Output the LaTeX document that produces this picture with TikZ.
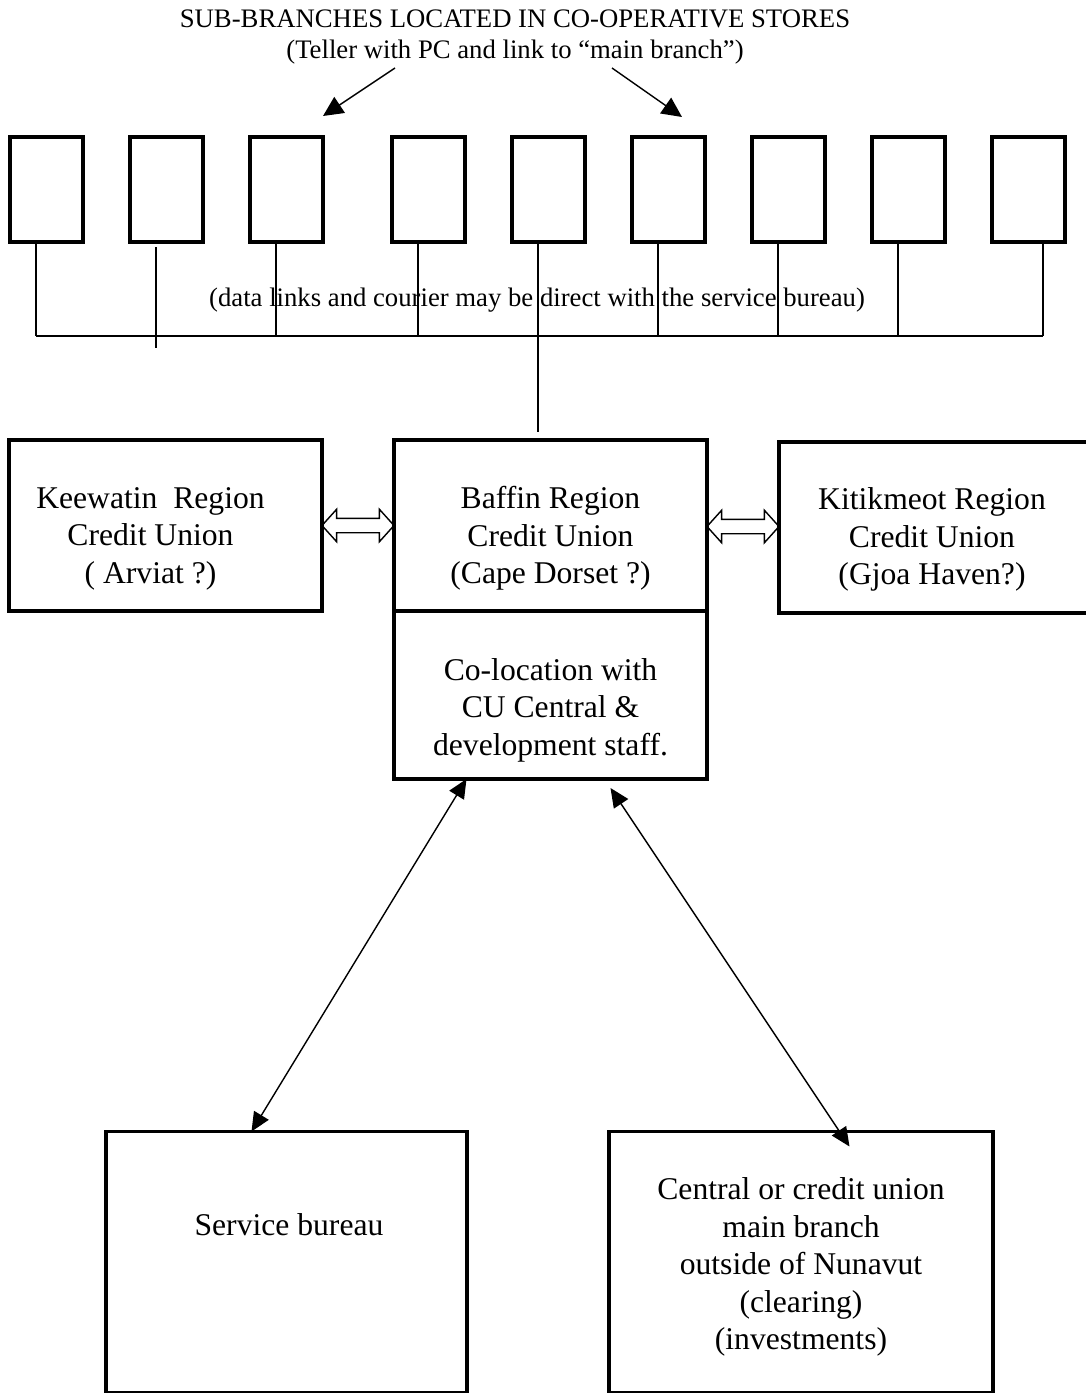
\documentclass[tikz,border=0pt]{standalone}
\usepackage{fontspec}
\setmainfont{Liberation Serif}
\usetikzlibrary{arrows.meta,positioning,calc,shapes.arrows}
\tikzset{
  diagarr/.style={{Triangle[length=3.8mm,width=3.4mm]}-{Triangle[length=3.8mm,width=3.4mm]}, line width=0.8pt},
  diagnode/.style={draw, line width=2.2pt, outer sep=0pt, inner sep=0pt},
  diagtext/.style={align=center, font=\fontsize{18}{21.3}\selectfont},
}

\begin{document}
\begin{tikzpicture}[
  storebox/.style={diagnode, line width=2pt, minimum width=1.46cm, minimum height=2.1cm},
  regbox/.style={diagnode, minimum width=6.26cm, minimum height=3.42cm},
  farbox/.style={diagnode, minimum height=5.22cm},
  linkarr/.style={double arrow, draw, line width=0.8pt, inner sep=0.13cm, minimum height=1.44cm, minimum width=0.62cm, double arrow head extend=0.18cm, double arrow tip angle=96},
  pointarr/.style={-{Triangle[length=4mm,width=3.8mm]}, line width=0.8pt},
  tick/.style={line width=0.9pt},
  note/.style={align=center, font=\fontsize{15.2}{18.2}\selectfont},
]
  \useasboundingbox (0,0) rectangle (21.72,-27.86);

  \node[note] (title) at (10.3,-0.74) {SUB-BRANCHES LOCATED IN CO-OPERATIVE STORES\\(Teller with PC and link to “main branch”)};
  \coordinate (pl) at (7.9,-1.36);
  \coordinate (ql) at (6.46,-2.32);
  \coordinate (pr) at (12.24,-1.36);
  \coordinate (qr) at (13.64,-2.34);
  \draw[pointarr] (pl) -- (ql);
  \draw[pointarr] (pr) -- (qr);

  \foreach \i/\x in {1/0.93,2/3.33,3/5.73,4/8.57,5/10.97,6/13.37,7/15.77,8/18.17,9/20.57}
    \node[storebox] (sb\i) at (\x,-3.79) {};

  \foreach \i/\dx in {1/-0.21,3/-0.21,4/-0.21,5/-0.21,6/-0.21,7/-0.21,8/-0.21,9/0.29}
    \draw[tick] ([xshift=\dx cm]sb\i.south) -- ++(0,-1.88) coordinate (t\i);
  \draw[tick] ([xshift=-0.21cm,yshift=-0.1cm]sb2.south) -- ++(0,-2.02);
  \draw[line width=1.3pt] (t1) -- (t9);

  \node[note] (links) at (10.74,-6.0) {(data links and courier may be direct with the service bureau)};

  \node[regbox] (kee) at (3.31,-10.51) {};
  \node[regbox] (baf) at (11.01,-10.51) {};
  \node[regbox, minimum height=3.36cm, below=0pt of baf] (colo) {};
  \node[regbox] (kit) at (18.71,-10.55) {};
  \draw[tick] (t5) -- ($(t5 |- baf.north)+(0,0.16)$);

  \node[diagtext] (keetxt) at ([xshift=-0.3cm,yshift=-0.26cm]kee.center) {Keewatin\ \ Region\\Credit Union\\( Arviat ?)};
  \node[diagtext] (baftxt) at ([yshift=-0.26cm]baf.center) {Baffin Region\\Credit Union\\(Cape Dorset ?)};
  \node[diagtext] (colotxt) at ([yshift=-0.3cm]colo.center) {Co-location with\\CU Central \&\\development staff.};
  \node[diagtext] (kittxt) at (18.64,-10.79) {Kitikmeot Region\\Credit Union\\(Gjoa Haven?)};

  \node[linkarr] (lk1) at ($(kee.east)!0.5!(baf.west)$) {};
  \node[linkarr] (lk2) at ($(baf.east)!0.5!(kit.west)$) {};

  \node[farbox, minimum width=7.22cm] (sbu) at (5.73,-25.24) {};
  \node[farbox, minimum width=7.68cm] (cen) at (16.02,-25.24) {};
  \node[diagtext] (sbutxt) at (5.78,-24.5) {Service bureau};
  \node[diagtext] (centxt) at (16.02,-25.34) {Central or credit union\\main branch\\outside of Nunavut\\(clearing)\\(investments)};

  \draw[diagarr] ([xshift=-1.68cm]colo.south) -- ([xshift=-0.7cm]sbu.north);
  \draw[diagarr] ([xshift=1.2cm,yshift=-0.18cm]colo.south) -- ([xshift=0.97cm,yshift=-0.3cm]cen.north);
\end{tikzpicture}
\end{document}
